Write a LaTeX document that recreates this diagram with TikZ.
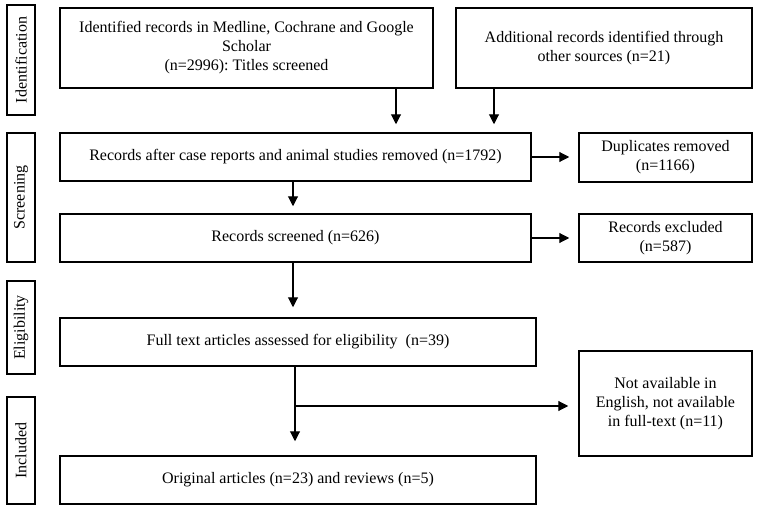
\documentclass[tikz,border=0pt]{standalone}
\usepackage{fontspec}
\setmainfont{Liberation Serif}
\usetikzlibrary{arrows.meta}
\begin{document}
\frenchspacing
\begin{tikzpicture}[x=1pt,y=-1pt,
  box/.style={draw,line width=1.5pt,inner sep=0pt,align=center,font=\fontsize{16}{19}\selectfont},
  side/.style={draw,line width=1.5pt,inner sep=0pt,rotate=90,minimum height=28pt,font=\fontsize{16}{19}\selectfont},
  arr/.style={line width=1.1pt,-{Triangle[length=10pt,width=10pt]}}]
\fill[white] (0,0) rectangle (758,511);
\useasboundingbox (0,0) rectangle (758,511);
% side labels
\node[side,minimum width=110pt] (sid) at (21,60) {Identification};
\node[side,minimum width=129pt] (sscr) at (21,197.5) {Screening};
\node[side,minimum width=93pt] (seli) at (21,327.5) {Eligibility};
\node[side,minimum width=107pt] (sinc) at (21,450.5) {Included};
% boxes
\node[box,minimum width=373pt,minimum height=80pt] (b1) at (246.5,48) {Identified records in Medline, Cochrane and Google\\Scholar\\(n=2996): Titles screened};
\node[box,minimum width=296pt,minimum height=80pt] (b2) at (604,48) {Additional records identified through\\other sources (n=21)};
\node[box,minimum width=471pt,minimum height=48pt] (b3) at (295.5,157) {Records after case reports and animal studies removed (n=1792)};
\node[box,minimum width=173pt,minimum height=49pt] (dup) at (665.5,157.5) {Duplicates removed\\(n=1166)};
\node[box,minimum width=471pt,minimum height=48pt] (b4) at (295.5,238) {Records screened (n=626)};
\node[box,minimum width=173pt,minimum height=48pt] (exc) at (665.5,238) {Records excluded\\(n=587)};
\node[box,minimum width=476pt,minimum height=48pt] (b5) at (298,342) {Full text articles assessed for eligibility\ \ (n=39)};
\node[box,minimum width=173pt,minimum height=105pt] (na) at (665.5,403.5) {Not available in\\English, not available\\in full-text (n=11)};
\node[box,minimum width=476pt,minimum height=48pt] (b6) at (298,480) {Original articles (n=23) and reviews (n=5)};
% connectors
\coordinate (c1) at (396,0);
\coordinate (c2) at (494,0);
\coordinate (c3) at (293,0);
\coordinate (c4) at (295,0);
\coordinate (br) at (295,406);
\draw[arr,shorten >=8pt] (b1.south -| c1) -- (b3.north -| c1);
\draw[arr,shorten >=8pt] (b2.south -| c2) -- (b3.north -| c2);
\draw[arr,shorten >=9pt] (b3.east) -- (b3.east -| dup.west);
\draw[arr,shorten >=7pt] (b3.south -| c3) -- (b4.north -| c3);
\draw[arr,shorten >=9pt] (b4.east) -- (b4.east -| exc.west);
\draw[arr,shorten >=10pt] (b4.south -| c3) -- (b5.north -| c3);
\draw[arr,shorten >=14pt] (b5.south -| c4) -- (b6.north -| c4);
\draw[arr,shorten >=10pt] (br) -- (br -| na.west);
\end{tikzpicture}
\end{document}
